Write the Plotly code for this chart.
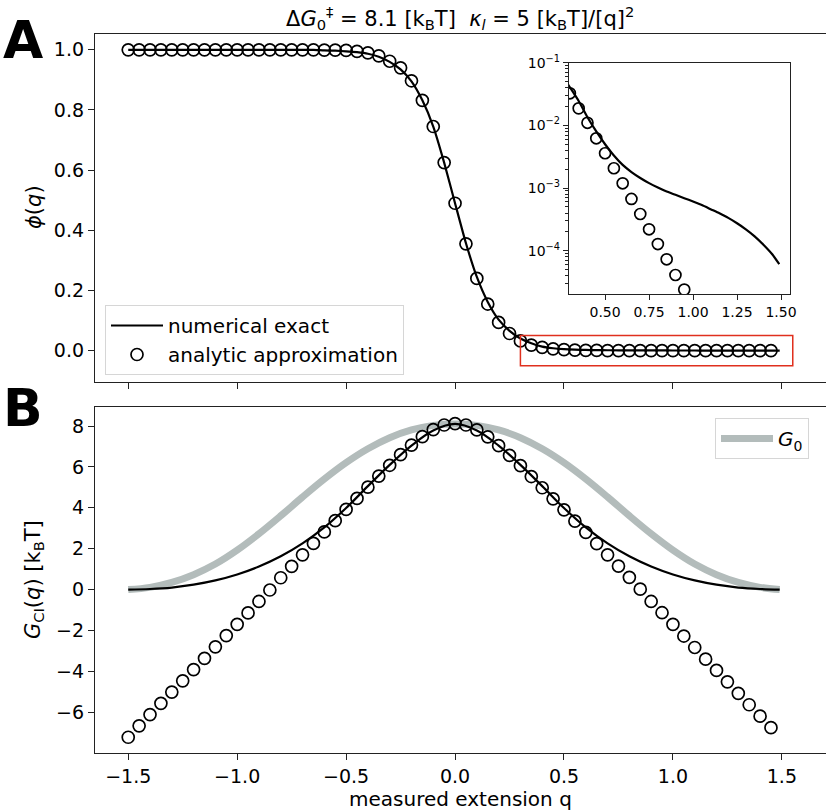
import plotly.graph_objects as go

# ---------------- data ----------------
q_circ = [-1.5, -1.45, -1.4, -1.35, -1.3, -1.25, -1.2, -1.15, -1.1, -1.05,
          -1.0, -0.95, -0.9, -0.85, -0.8, -0.75, -0.7, -0.65, -0.6, -0.55,
          -0.5, -0.45, -0.4, -0.35, -0.3, -0.25, -0.2, -0.15, -0.1, -0.05,
          0.0, 0.05, 0.1, 0.15, 0.2, 0.25, 0.3, 0.35, 0.4, 0.45,
          0.5, 0.55, 0.6, 0.65, 0.7, 0.75, 0.8, 0.85, 0.9, 0.95,
          1.0, 1.05, 1.1, 1.15, 1.2, 1.25, 1.3, 1.35, 1.4, 1.45]

phi_approx = [1.0, 1.0, 1.0, 1.0, 1.0, 1.0, 1.0, 1.0, 1.0, 1.0,
              1.0, 1.0, 1.0, 1.0, 1.0, 1.0, 1.0, 1.0, 0.999, 0.999,
              0.998, 0.995, 0.99, 0.98, 0.962, 0.94, 0.897, 0.832, 0.745, 0.625,
              0.49, 0.355, 0.24, 0.155, 0.094, 0.057, 0.0325, 0.0187, 0.0110, 0.00622,
              0.00359, 0.00207, 0.00119, 6.7e-4, 3.86e-4, 2.2e-4, 1.28e-4, 7.3e-5, 4.1e-5, 2.4e-5,
              1.3e-5, 7e-6, 3.6e-6, 1.8e-6, 9e-7, 4.4e-7, 2.1e-7, 1e-7, 4.6e-8, 2.1e-8]

q_line = [-1.5, -1.45, -1.4, -1.35, -1.3, -1.25, -1.2, -1.15, -1.1, -1.05,
          -1.0, -0.95, -0.9, -0.85, -0.8, -0.75, -0.7, -0.65, -0.6, -0.55,
          -0.5, -0.45, -0.4, -0.35, -0.3, -0.25, -0.2, -0.15, -0.1, -0.05,
          0.0, 0.05, 0.1, 0.15, 0.2, 0.25, 0.3, 0.35, 0.4, 0.45,
          0.5, 0.55, 0.6, 0.65, 0.7, 0.75, 0.8, 0.85, 0.9, 0.95,
          1.0, 1.05, 1.1, 1.15, 1.2, 1.25, 1.3, 1.35, 1.4, 1.45, 1.49]

phi_exact = [1.0, 1.0, 1.0, 1.0, 1.0, 1.0, 1.0, 1.0, 1.0, 1.0,
             1.0, 1.0, 1.0, 1.0, 1.0, 1.0, 1.0, 1.0, 0.998, 0.997,
             0.995, 0.992, 0.987, 0.977, 0.96, 0.935, 0.895, 0.832, 0.745, 0.625,
             0.49, 0.357, 0.245, 0.162, 0.103, 0.066, 0.0405, 0.0245, 0.0135, 0.0080,
             0.0050, 0.0033, 0.00234, 0.00180, 0.00145, 0.00120, 0.00102, 8.8e-4, 7.8e-4, 6.9e-4,
             6.1e-4, 5.35e-4, 4.6e-4, 3.95e-4, 3.35e-4, 2.75e-4, 2.2e-4, 1.7e-4, 1.25e-4, 8.8e-5, 6.1e-5]

G_approx = [-7.22, -6.66, -6.11, -5.56, -5.01, -4.46, -3.91, -3.36, -2.80, -2.25,
            -1.70, -1.14, -0.58, -0.02, 0.58, 1.14, 1.70, 2.26, 2.82, 3.37,
            3.92, 4.46, 5.01, 5.55, 6.08, 6.60, 7.07, 7.48, 7.82, 8.05,
            8.12, 8.05, 7.81, 7.47, 7.04, 6.56, 6.06, 5.53, 4.98, 4.44,
            3.90, 3.35, 2.80, 2.25, 1.70, 1.15, 0.60, 0.02, -0.58, -1.13,
            -1.70, -2.27, -2.83, -3.40, -3.95, -4.51, -5.07, -5.63, -6.19, -6.75]

q_G = [-1.5, -1.4, -1.3, -1.2, -1.1, -1.0, -0.9, -0.8, -0.7, -0.6, -0.5,
       -0.4, -0.3, -0.2, -0.1, 0.0, 0.1, 0.2, 0.3, 0.4, 0.5, 0.6, 0.7,
       0.8, 0.9, 1.0, 1.1, 1.2, 1.3, 1.4, 1.49]

G_exact = [0.0, 0.03, 0.10, 0.24, 0.45, 0.74, 1.13, 1.63, 2.26, 3.04, 3.99,
           5.06, 6.10, 7.04, 7.78, 8.10, 7.78, 7.04, 6.10, 5.06, 3.99, 3.04, 2.26,
           1.63, 1.13, 0.74, 0.45, 0.24, 0.10, 0.03, 0.0]

G0 = [0.0, 0.11, 0.35, 0.73, 1.25, 1.93, 2.73, 3.61, 4.53, 5.41, 6.21,
      6.89, 7.43, 7.81, 8.03, 8.10, 8.03, 7.81, 7.43, 6.89, 6.21, 5.41, 4.53,
      3.61, 2.73, 1.93, 1.25, 0.73, 0.35, 0.11, 0.0]

zoom_box = [0.3, 1.55, -0.05, 0.05]   # red rectangle (x0, x1, y0, y1)

# ---------------- figure ----------------
W, H = 826, 812
FONT = "DejaVu Sans"
BLACK = "#000000"
GRAY = "#b3bcbb"

def px(x):
    return x / W

def py(y):
    return 1 - y / H

# portion of the series shown in the inset
i_line = [i for i, q in enumerate(q_line) if q >= 0.25]
i_circ = [i for i, q in enumerate(q_circ) if q >= 0.25]

fig = go.Figure()

# Panel A
fig.add_trace(go.Scatter(x=q_line, y=phi_exact, mode="lines", name="numerical exact",
                         line=dict(color=BLACK, width=2.2, shape="spline", smoothing=0.6),
                         xaxis="x", yaxis="y", legend="legend"))
fig.add_trace(go.Scatter(x=q_circ, y=phi_approx, mode="markers", name="analytic approximation",
                         marker=dict(symbol="circle-open", size=12, color=BLACK,
                                     line=dict(width=1.7, color=BLACK)),
                         xaxis="x", yaxis="y", legend="legend"))

# Panel B
fig.add_trace(go.Scatter(x=q_G, y=G0, mode="lines", name="<i>G</i><sub>0</sub>",
                         line=dict(color=GRAY, width=7, shape="spline", smoothing=1.0),
                         xaxis="x2", yaxis="y2", legend="legend2"))
fig.add_trace(go.Scatter(x=q_G, y=G_exact, mode="lines", showlegend=False,
                         line=dict(color=BLACK, width=2.2, shape="spline", smoothing=1.0),
                         xaxis="x2", yaxis="y2"))
fig.add_trace(go.Scatter(x=q_circ, y=G_approx, mode="markers", showlegend=False,
                         marker=dict(symbol="circle-open", size=12, color=BLACK,
                                     line=dict(width=1.7, color=BLACK)),
                         xaxis="x2", yaxis="y2"))

# Inset
fig.add_trace(go.Scatter(x=[q_line[i] for i in i_line], y=[phi_exact[i] for i in i_line],
                         mode="lines", showlegend=False,
                         line=dict(color=BLACK, width=2.2, shape="spline", smoothing=0.6),
                         xaxis="x3", yaxis="y3"))
fig.add_trace(go.Scatter(x=[q_circ[i] for i in i_circ], y=[phi_approx[i] for i in i_circ],
                         mode="markers", showlegend=False,
                         marker=dict(symbol="circle-open", size=11, color=BLACK,
                                     line=dict(width=1.7, color=BLACK)),
                         xaxis="x3", yaxis="y3"))

axis_common = dict(showline=True, linecolor="#222222", linewidth=1.3, mirror=True,
                   ticks="outside", ticklen=6, tickwidth=1.3, tickcolor="#222222",
                   showgrid=False, zeroline=False, automargin=False,
                   tickfont=dict(family=FONT, size=19, color=BLACK))
inset_common = {**axis_common, "ticklen": 5, "tickfont": dict(family=FONT, size=14, color=BLACK)}

minor_vals = [m * 10.0 ** e for e in (-5, -4, -3, -2) for m in range(2, 10)]

xr = [-1.6525, 1.7025]
fig.update_layout(
    width=W, height=H, margin=dict(l=0, r=0, t=0, b=0, autoexpand=False),
    paper_bgcolor="white", plot_bgcolor="white",
    xaxis=dict(domain=[px(95), 1.0], anchor="y", range=xr, matches="x2",
               tickvals=[-1.5, -1.0, -0.5, 0.0, 0.5, 1.0, 1.5], showticklabels=False,
               **axis_common),
    yaxis=dict(domain=[py(381.5), py(34)], anchor="x", range=[-0.1025, 1.0525],
               tickvals=[0.0, 0.2, 0.4, 0.6, 0.8, 1.0], tickformat=".1f", **axis_common),
    xaxis2=dict(domain=[px(95), 1.0], anchor="y2", range=xr,
                tickvals=[-1.5, -1.0, -0.5, 0.0, 0.5, 1.0, 1.5], tickformat=".1f",
                **axis_common),
    yaxis2=dict(domain=[py(753), py(407)], anchor="x2", range=[-7.99, 8.93],
                tickvals=[-6, -4, -2, 0, 2, 4, 6, 8], **axis_common),
    xaxis3=dict(domain=[px(569), px(790)], anchor="y3", range=[0.295, 1.551],
                tickvals=[0.5, 0.75, 1.0, 1.25, 1.5], tickformat=".2f", **inset_common),
    yaxis3=dict(domain=[py(294), py(62.7)], anchor="x3", type="log", range=[-4.69, -1.0],
                tickvals=[1e-4, 1e-3, 1e-2, 1e-1],
                ticktext=["10<sup>−4</sup>", "10<sup>−3</sup>", "10<sup>−2</sup>", "10<sup>−1</sup>"],
                minor=dict(ticks="outside", ticklen=3, tickwidth=1, tickcolor="#222222",
                           tickvals=minor_vals, showgrid=False),
                **inset_common),
    legend=dict(x=px(105), y=py(305), xanchor="left", yanchor="top", itemwidth=52,
                bgcolor="rgba(255,255,255,0.85)", bordercolor="#d6d6d6", borderwidth=1,
                font=dict(family=FONT, size=20, color=BLACK), tracegroupgap=2),
    legend2=dict(x=px(715), y=py(418), xanchor="left", yanchor="top", itemwidth=52,
                 bgcolor="rgba(255,255,255,0.85)", bordercolor="#d6d6d6", borderwidth=1,
                 font=dict(family=FONT, size=20, color=BLACK)),
    showlegend=True,
)

fig.add_shape(type="rect", xref="x", yref="y",
              x0=zoom_box[0], x1=zoom_box[1], y0=zoom_box[2], y1=zoom_box[3],
              line=dict(color="#e0301e", width=1.5), fillcolor="rgba(0,0,0,0)")

ann_font = dict(family=FONT, size=21, color=BLACK)
fig.add_annotation(text="Δ<i>G</i><sub>0</sub><sup>‡</sup> = 8.1 [k<sub>B</sub>T]  <i>κ</i><sub><i>l</i></sub> = 5 [k<sub>B</sub>T]/[q]<sup>2</sup>",
                   x=px(460), y=py(18), xref="paper", yref="paper", showarrow=False,
                   xanchor="center", yanchor="middle", font=ann_font)
fig.add_annotation(text="measured extension q", x=px(460), y=py(799), xref="paper", yref="paper",
                   showarrow=False, xanchor="center", yanchor="middle",
                   font=dict(family=FONT, size=20, color=BLACK))
fig.add_annotation(text="<i>ϕ</i>(<i>q</i>)", x=px(34), y=py(207), xref="paper", yref="paper",
                   showarrow=False, textangle=-90, xanchor="center", yanchor="middle", font=ann_font)
fig.add_annotation(text="<i>G</i><sub>CI</sub>(<i>q</i>) [k<sub>B</sub>T]", x=px(34), y=py(580),
                   xref="paper", yref="paper", showarrow=False, textangle=-90,
                   xanchor="center", yanchor="middle", font=ann_font)
fig.add_annotation(text="<b>A</b>", x=px(23), y=py(40), xref="paper", yref="paper", showarrow=False,
                   xanchor="center", yanchor="middle", font=dict(family=FONT, size=52, color=BLACK))
fig.add_annotation(text="<b>B</b>", x=px(23), y=py(408), xref="paper", yref="paper", showarrow=False,
                   xanchor="center", yanchor="middle", font=dict(family=FONT, size=52, color=BLACK))

fig.write_html("out.html", config={"displayModeBar": False},
               post_script="document.body.style.margin='0px';"
                           "document.body.style.overflow='hidden';")
